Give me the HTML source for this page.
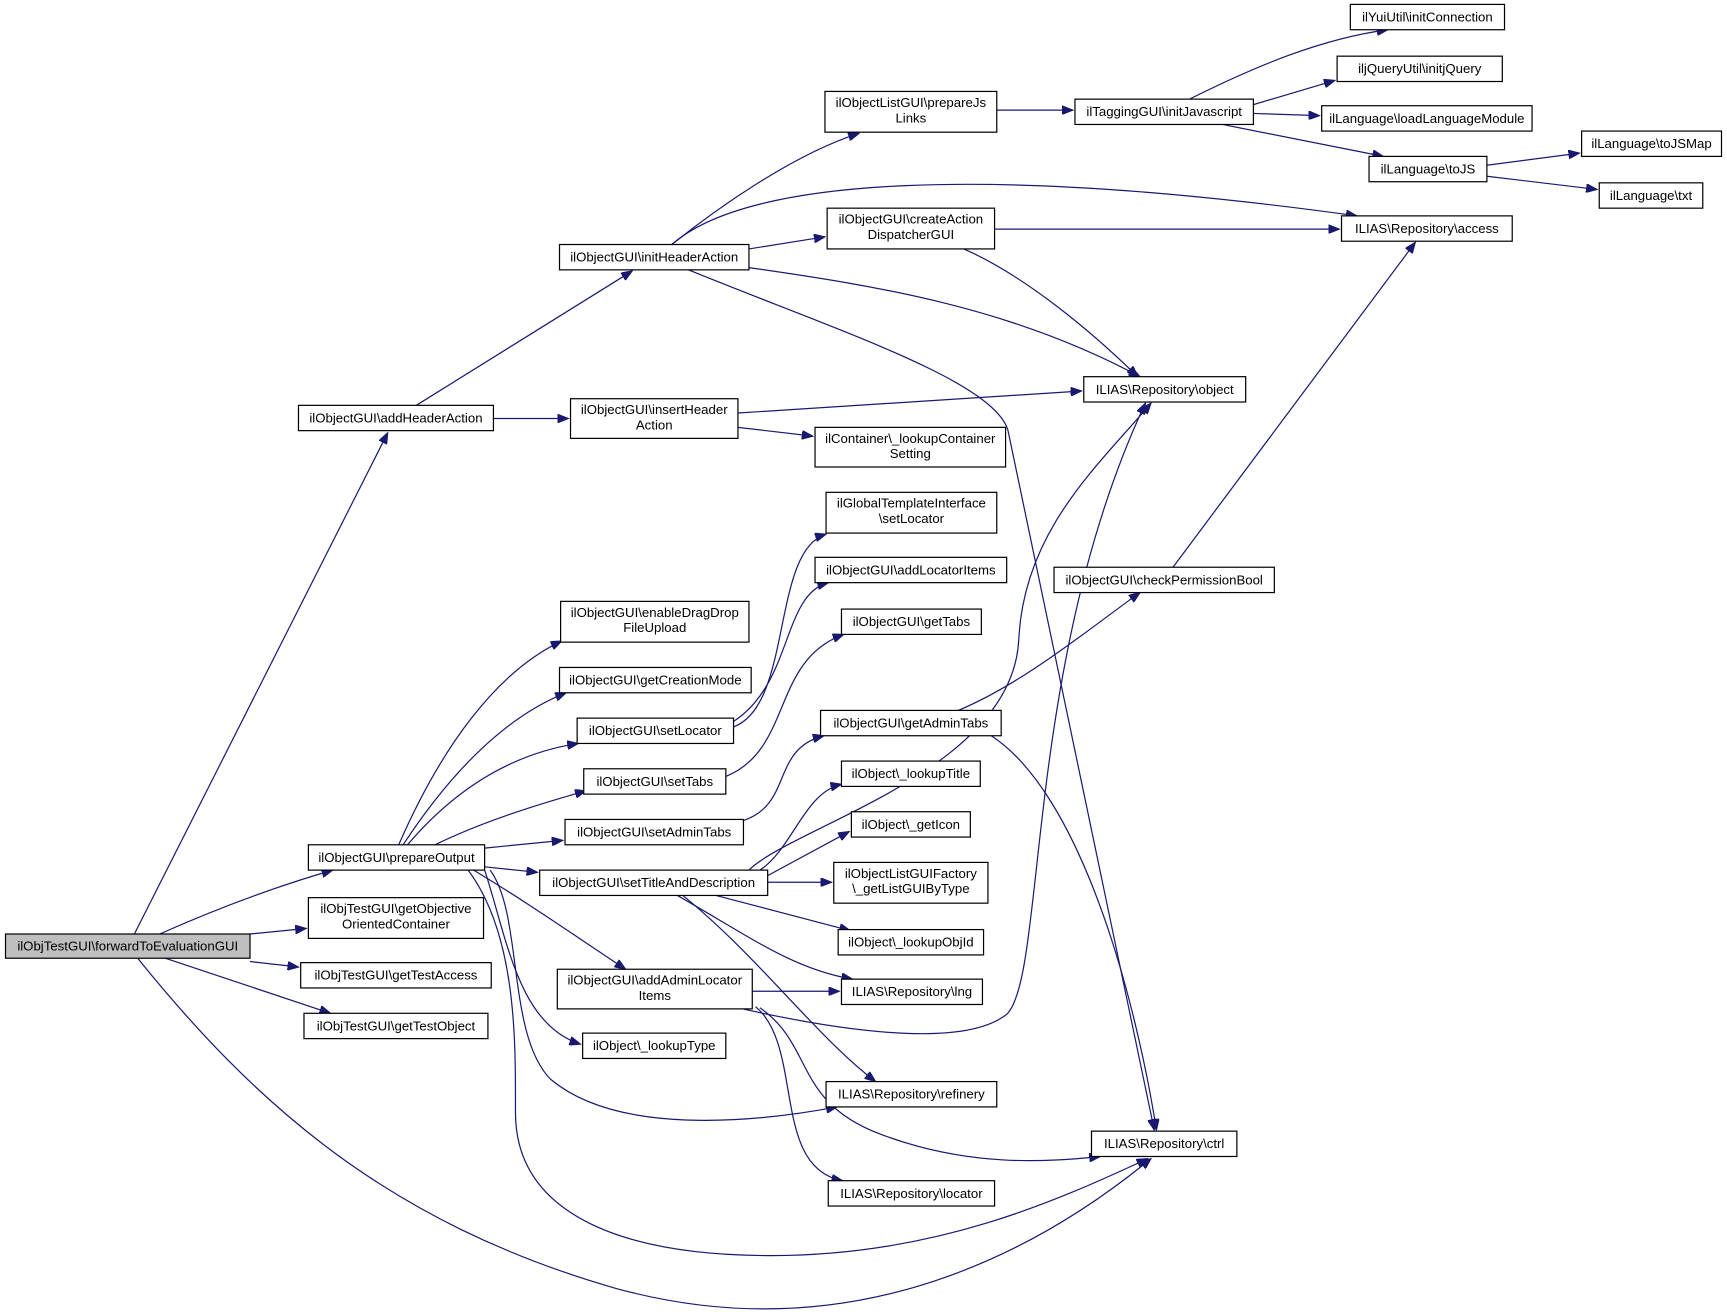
<!DOCTYPE html>
<html><head><meta charset="utf-8"><style>
html,body{margin:0;padding:0;background:#fff;}
svg{display:block;}
text{font-family:"Liberation Sans",sans-serif;font-size:12px;fill:#000;}
.n{fill:#fff;stroke:#000;stroke-width:1.1;}
.e{fill:none;stroke:#191970;stroke-width:1.1;}
</style></head><body>
<svg width="1727" height="1312" viewBox="0 0 1568 1191.2" xmlns="http://www.w3.org/2000/svg">
<defs><marker id="a" markerUnits="userSpaceOnUse" markerWidth="11" markerHeight="8" refX="10" refY="4" orient="auto"><path d="M0,0 L10,4 L0,8 z" fill="#191970" stroke="#191970"/></marker></defs>
<g marker-end="url(#a)">
<path class="e" d="M122,848 L352,393"/>
<path class="e" d="M145,848 C190,828 240,808 302,790"/>
<path class="e" d="M227,848 L278,843"/>
<path class="e" d="M227,873 L271,878"/>
<path class="e" d="M150,870 L300,920"/>
<path class="e" d="M125,870 C230,1000 350,1110 560,1170 C780,1230 950,1130 1045,1052"/>
<path class="e" d="M378,368 L574,246"/>
<path class="e" d="M448,380 L516,380"/>
<path class="e" d="M610,222 C650,190 720,140 780,121"/>
<path class="e" d="M610,222 C680,160 900,150 1232,196"/>
<path class="e" d="M680,226 L749,215"/>
<path class="e" d="M680,243 C800,260 920,280 1035,342"/>
<path class="e" d="M625,245 C760,300 900,345 915,390 L1048,1026"/>
<path class="e" d="M905,100 L974,100"/>
<path class="e" d="M1080,90 C1140,60 1200,35 1260,27"/>
<path class="e" d="M1138,95 L1212,73"/>
<path class="e" d="M1138,103 L1198,105"/>
<path class="e" d="M1110,113 L1256,142"/>
<path class="e" d="M1350,150 L1434,139"/>
<path class="e" d="M1350,160 L1450,172"/>
<path class="e" d="M903,208 L1216,208"/>
<path class="e" d="M875,226 C930,250 990,300 1033,342"/>
<path class="e" d="M670,375 L982,355"/>
<path class="e" d="M670,388 L738,396"/>
<path class="e" d="M1065,515 L1285,220"/>
<path class="e" d="M362,767 C400,680 450,610 510,582"/>
<path class="e" d="M366,767 C410,700 460,650 514,629"/>
<path class="e" d="M370,767 C410,720 460,685 525,675"/>
<path class="e" d="M395,767 C440,745 490,730 532,718"/>
<path class="e" d="M440,770 L511,763"/>
<path class="e" d="M440,787 L488,792"/>
<path class="e" d="M430,790 C480,820 530,855 568,880"/>
<path class="e" d="M440,790 C460,850 470,930 527,948"/>
<path class="e" d="M445,790 C475,830 460,940 500,980 C560,1030 680,1020 760,1005"/>
<path class="e" d="M425,790 C470,850 468,950 468,1010 C468,1100 560,1140 700,1140 C850,1140 960,1090 1042,1052"/>
<path class="e" d="M666,660 C720,640 700,500 750,485"/>
<path class="e" d="M666,655 C720,620 710,540 752,529"/>
<path class="e" d="M659,705 C720,680 700,600 766,576"/>
<path class="e" d="M675,745 C720,730 700,680 748,668"/>
<path class="e" d="M870,645 C930,620 990,570 1035,538"/>
<path class="e" d="M900,668 C980,720 1030,900 1050,1026"/>
<path class="e" d="M680,790 C720,750 920,700 925,580 C930,480 1000,420 1045,366"/>
<path class="e" d="M690,790 C720,770 730,720 764,712"/>
<path class="e" d="M697,795 L771,755"/>
<path class="e" d="M697,801 L755,801"/>
<path class="e" d="M650,813 L772,845"/>
<path class="e" d="M615,813 C680,850 720,880 774,889"/>
<path class="e" d="M620,813 C690,870 740,940 795,982"/>
<path class="e" d="M683,900 L762,900"/>
<path class="e" d="M670,915 C780,940 880,950 915,920 C950,880 930,600 1040,366"/>
<path class="e" d="M690,915 C740,950 720,1000 800,1030 C880,1060 950,1055 999,1050"/>
<path class="e" d="M686,914 C730,950 700,1060 765,1072"/>
</g>
<rect x="5" y="848" width="222" height="22" fill="#bfbfbf" stroke="#000" stroke-width="1.1"/><text x="116" y="863" text-anchor="middle">ilObjTestGUI\forwardToEvaluationGUI</text>
<g text-anchor="middle">
<rect class="n" x="271" y="368" width="177" height="23"/><text x="359.5" y="383.5">ilObjectGUI\addHeaderAction</text>
<rect class="n" x="280" y="767" width="160" height="23"/><text x="360" y="782.5">ilObjectGUI\prepareOutput</text>
<rect class="n" x="280" y="815" width="159" height="37"/><text x="359.5" y="829">ilObjTestGUI\getObjective</text><text x="359.5" y="843">OrientedContainer</text>
<rect class="n" x="273" y="874" width="173" height="23"/><text x="359.5" y="889.5">ilObjTestGUI\getTestAccess</text>
<rect class="n" x="276" y="920" width="167" height="23"/><text x="359.5" y="935.5">ilObjTestGUI\getTestObject</text>
<rect class="n" x="508" y="222" width="172" height="23"/><text x="594" y="237.5">ilObjectGUI\initHeaderAction</text>
<rect class="n" x="518" y="362" width="152" height="36"/><text x="594" y="376">ilObjectGUI\insertHeader</text><text x="594" y="390">Action</text>
<rect class="n" x="749" y="83" width="156" height="37"/><text x="827" y="97">ilObjectListGUI\prepareJs</text><text x="827" y="111">Links</text>
<rect class="n" x="751" y="189" width="152" height="37"/><text x="827" y="203">ilObjectGUI\createAction</text><text x="827" y="217">DispatcherGUI</text>
<rect class="n" x="976" y="90" width="162" height="23"/><text x="1057" y="105.5">ilTaggingGUI\initJavascript</text>
<rect class="n" x="1226" y="4" width="140" height="23"/><text x="1296" y="19.5">ilYuiUtil\initConnection</text>
<rect class="n" x="1214" y="51" width="150" height="23"/><text x="1289" y="66.5">iljQueryUtil\initjQuery</text>
<rect class="n" x="1200" y="96" width="191" height="23"/><text x="1295.5" y="111.5">ilLanguage\loadLanguageModule</text>
<rect class="n" x="1243" y="142" width="107" height="23"/><text x="1296.5" y="157.5">ilLanguage\toJS</text>
<rect class="n" x="1436" y="119" width="127" height="23"/><text x="1499.5" y="134.5">ilLanguage\toJSMap</text>
<rect class="n" x="1452" y="166" width="94" height="23"/><text x="1499" y="181.5">ilLanguage\txt</text>
<rect class="n" x="1218" y="196" width="155" height="23"/><text x="1295.5" y="211.5">ILIAS\Repository\access</text>
<rect class="n" x="984" y="342" width="147" height="23"/><text x="1057.5" y="357.5">ILIAS\Repository\object</text>
<rect class="n" x="740" y="388" width="173" height="36"/><text x="826.5" y="402">ilContainer\_lookupContainer</text><text x="826.5" y="416">Setting</text>
<rect class="n" x="750" y="447" width="155" height="37"/><text x="827.5" y="461">ilGlobalTemplateInterface</text><text x="827.5" y="475">\setLocator</text>
<rect class="n" x="740" y="506" width="174" height="23"/><text x="827" y="521.5">ilObjectGUI\addLocatorItems</text>
<rect class="n" x="957" y="515" width="200" height="23"/><text x="1057" y="530.5">ilObjectGUI\checkPermissionBool</text>
<rect class="n" x="509" y="546" width="171" height="37"/><text x="594.5" y="560">ilObjectGUI\enableDragDrop</text><text x="594.5" y="574">FileUpload</text>
<rect class="n" x="508" y="606" width="174" height="23"/><text x="595" y="621.5">ilObjectGUI\getCreationMode</text>
<rect class="n" x="764" y="553" width="127" height="23"/><text x="827.5" y="568.5">ilObjectGUI\getTabs</text>
<rect class="n" x="524" y="652" width="142" height="23"/><text x="595" y="667.5">ilObjectGUI\setLocator</text>
<rect class="n" x="745" y="645" width="164" height="23"/><text x="827" y="660.5">ilObjectGUI\getAdminTabs</text>
<rect class="n" x="530" y="698" width="129" height="23"/><text x="594.5" y="713.5">ilObjectGUI\setTabs</text>
<rect class="n" x="764" y="691" width="126" height="23"/><text x="827" y="706.5">ilObject\_lookupTitle</text>
<rect class="n" x="513" y="744" width="162" height="23"/><text x="594" y="759.5">ilObjectGUI\setAdminTabs</text>
<rect class="n" x="773" y="737" width="108" height="23"/><text x="827" y="752.5">ilObject\_getIcon</text>
<rect class="n" x="490" y="790" width="207" height="23"/><text x="593.5" y="805.5">ilObjectGUI\setTitleAndDescription</text>
<rect class="n" x="757" y="783" width="140" height="37"/><text x="827" y="797">ilObjectListGUIFactory</text><text x="827" y="811">\_getListGUIByType</text>
<rect class="n" x="761" y="844" width="132" height="23"/><text x="827" y="859.5">ilObject\_lookupObjId</text>
<rect class="n" x="506" y="880" width="177" height="36"/><text x="594.5" y="894">ilObjectGUI\addAdminLocator</text><text x="594.5" y="908">Items</text>
<rect class="n" x="764" y="889" width="128" height="23"/><text x="828" y="904.5">ILIAS\Repository\lng</text>
<rect class="n" x="529" y="938" width="130" height="23"/><text x="594" y="953.5">ilObject\_lookupType</text>
<rect class="n" x="750" y="982" width="155" height="23"/><text x="827.5" y="997.5">ILIAS\Repository\refinery</text>
<rect class="n" x="991" y="1027" width="132" height="23"/><text x="1057" y="1042.5">ILIAS\Repository\ctrl</text>
<rect class="n" x="752" y="1072" width="151" height="23"/><text x="827.5" y="1087.5">ILIAS\Repository\locator</text>
</g>
</svg>
</body></html>
